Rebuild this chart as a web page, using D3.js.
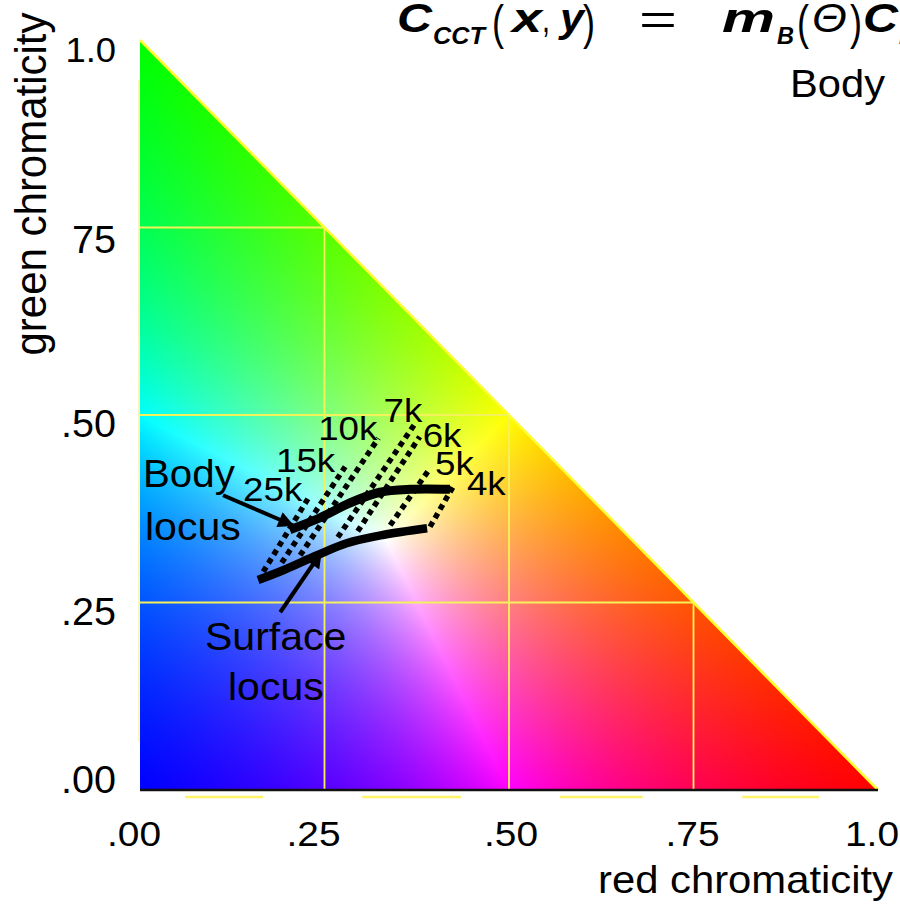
<!DOCTYPE html>
<html>
<head>
<meta charset="utf-8">
<script src="https://cdn.jsdelivr.net/npm/d3@7"></script>
<style>
  html, body { margin: 0; padding: 0; background: #fff; overflow: hidden; }
  text { font-family: "Liberation Sans", Arial, Helvetica, sans-serif; fill: #000; }
</style>
</head>
<body>
<svg id="chart" width="900" height="904"></svg>
<script>
// ---- axis ticks (r and g chromaticity) ----
const tickValues = [0, 0.25, 0.5, 0.75, 1];
const xTickLabels = [".00", ".25", ".50", ".75", "1.0"];
const yTickLabels = [".00", ".25", ".50", "75", "1.0"];
const gridValues = [0.25, 0.5, 0.75];

// ---- loci, as (r, g) chromaticity pairs ----
const bodyLocus = [[0.203, 0.347], [0.244, 0.363], [0.285, 0.383], [0.325, 0.397], [0.366, 0.401], [0.420, 0.401]];
const surfaceLocus = [[0.160, 0.280], [0.194, 0.293], [0.240, 0.313], [0.280, 0.329], [0.329, 0.340], [0.389, 0.349]];

// ---- iso-CCT lines: start (surface side) and end (beyond body locus) ----
const cctLabels = ["25k", "15k", "10k", "7k", "6k", "5k", "4k"];
const cctFrom = [[0.167, 0.291], [0.192, 0.303], [0.217, 0.313], [0.268, 0.337], [0.295, 0.345], [0.339, 0.353], [0.393, 0.351]];
const cctTo   = [[0.228, 0.389], [0.278, 0.431], [0.323, 0.469], [0.373, 0.489], [0.379, 0.471], [0.393, 0.429], [0.424, 0.404]];

// ---- annotation arrows (tail -> tip), chromaticity coordinates ----
const bodyArrow = [[0.1125, 0.393], [0.207, 0.353]];
const surfaceArrow = [[0.190, 0.237], [0.245, 0.316]];

// ---- layout ----
const W = 900, H = 904;
const x = d3.scaleLinear().domain([0, 1]).range([140, 878]);
const y = d3.scaleLinear().domain([0, 1]).range([790, 40]);

const svg = d3.select("#chart");
const defs = svg.append("defs");

// triangle of valid chromaticities
const tri = [[0, 0], [0, 1], [1, 0]];
const triPts = tri.map(d => [x(d[0]), y(d[1])]);
defs.append("clipPath").attr("id", "tri")
  .append("polygon").attr("points", triPts.map(p => p.join(",")).join(" "));

// colour field: (r, g, 1-r-g) scaled so the largest channel is full
const canvas = document.createElement("canvas");
canvas.width = W; canvas.height = H;
const ctx = canvas.getContext("2d");
const img = ctx.createImageData(W, H);
for (let py = Math.floor(y(1)) - 1; py <= Math.ceil(y(0)) + 1; py++) {
  for (let px = Math.floor(x(0)) - 1; px <= Math.ceil(x(1)) + 1; px++) {
    let r = Math.max(0, x.invert(px + 0.5));
    let g = Math.max(0, y.invert(py + 0.5));
    let b = Math.max(0, 1 - r - g);
    const m = Math.max(r, g, b) || 1;
    const i = (py * W + px) * 4;
    img.data[i] = Math.round(255 * r / m);
    img.data[i + 1] = Math.round(255 * g / m);
    img.data[i + 2] = Math.round(255 * b / m);
    img.data[i + 3] = 255;
  }
}
ctx.putImageData(img, 0, 0);
svg.append("image")
  .attr("href", canvas.toDataURL())
  .attr("x", 0).attr("y", 0).attr("width", W).attr("height", H)
  .attr("clip-path", "url(#tri)");

// yellow grid, clipped to the triangle
const grid = svg.append("g").attr("stroke", "#f4f25a").attr("stroke-width", 1.8).attr("fill", "none");
gridValues.forEach(v => {
  grid.append("line").attr("x1", x(v)).attr("x2", x(v)).attr("y1", y(0)).attr("y2", y(1 - v));
  grid.append("line").attr("x1", x(0)).attr("x2", x(1 - v)).attr("y1", y(v)).attr("y2", y(v));
});
// hypotenuse r + g = 1
svg.append("line")
  .attr("x1", x(0)).attr("y1", y(1)).attr("x2", x(1)).attr("y2", y(0))
  .attr("stroke", "#ffff30").attr("stroke-width", 2.5);
// faint left edge
svg.append("line")
  .attr("x1", x(0) - 1).attr("x2", x(0) - 1).attr("y1", y(0.947)).attr("y2", y(0.064))
  .attr("stroke", "#f8f4a0").attr("stroke-width", 1.5);
// base axis
svg.append("line")
  .attr("x1", x(0)).attr("x2", x(1)).attr("y1", y(0)).attr("y2", y(0))
  .attr("stroke", "#111").attr("stroke-width", 2.5);
// yellow underline pieces below the base
const baseMarks = [[0.061, 0.167], [0.301, 0.435], [0.569, 0.681], [0.816, 0.920]];
svg.append("g").selectAll("line").data(baseMarks).join("line")
  .attr("x1", d => x(d[0])).attr("x2", d => x(d[1]))
  .attr("y1", y(0) + 7).attr("y2", y(0) + 7)
  .attr("stroke", "#fff36a").attr("stroke-width", 2.5);

// text helper with a slight horizontal stretch
function label(t, px, py, size, anchor, sx) {
  return svg.append("text")
    .attr("transform", `translate(${px},${py}) scale(${sx || 1},1)`)
    .attr("text-anchor", anchor || "start")
    .attr("font-size", size)
    .text(t);
}

// y ticks
const yTickBase = [3, 22.5, 22, 25.5, 22];
const yTickSize = [38, 38, 38, 38, 35];
tickValues.forEach((v, i) => {
  label(yTickLabels[i], 116, y(v) + yTickBase[i], yTickSize[i], "end", 1.04);
});
// x ticks
const xTickShift = [-6, -11, 2, -1, -6];
tickValues.forEach((v, i) => {
  label(xTickLabels[i], x(v) + xTickShift[i], 846, 36, "middle", 1.08);
});
// axis titles
label("red chromaticity", 893, 893, 38, "end", 1.1);
svg.append("text")
  .attr("transform", "translate(46,184) rotate(-90) scale(1,1.05)")
  .attr("text-anchor", "middle")
  .attr("font-size", 42)
  .text("green chromaticity");

// iso-CCT dotted lines
const seg = d3.line().x(d => x(d[0])).y(d => y(d[1]));
svg.append("g").selectAll("path").data(cctLabels.map((l, i) => [cctFrom[i], cctTo[i]])).join("path")
  .attr("d", seg)
  .attr("fill", "none").attr("stroke", "#000")
  .attr("stroke-width", 5.5).attr("stroke-dasharray", "5.5,4.5");

// loci
const curve = d3.line().x(d => x(d[0])).y(d => y(d[1])).curve(d3.curveCatmullRom);
svg.append("path").attr("d", curve(bodyLocus))
  .attr("fill", "none").attr("stroke", "#000").attr("stroke-width", 9);
svg.append("path").attr("d", curve(surfaceLocus))
  .attr("fill", "none").attr("stroke", "#000").attr("stroke-width", 8.5);

// CCT labels near the upper end of each line
const cctLabelLayout = [
  { anchor: "end", dx: -6, dy: 3 },
  { anchor: "end", dx: -10, dy: 5 },
  { anchor: "end", dx: -1, dy: 2 },
  { anchor: "end", dx: 7, dy: -1 },
  { anchor: "start", dx: 3, dy: 10 },
  { anchor: "start", dx: 5, dy: 7 },
  { anchor: "start", dx: 14, dy: 8 }
];
cctLabels.forEach((t, i) => {
  const L = cctLabelLayout[i];
  label(t, x(cctTo[i][0]) + L.dx, y(cctTo[i][1]) + L.dy, 34, L.anchor, 1.08);
});

// arrows
defs.append("marker").attr("id", "head")
  .attr("viewBox", "0 0 10 10").attr("refX", 9).attr("refY", 5)
  .attr("markerWidth", 21).attr("markerHeight", 16)
  .attr("markerUnits", "userSpaceOnUse").attr("orient", "auto")
  .append("path").attr("d", "M0,0 L10,5 L0,10 Z").attr("fill", "#000");
[bodyArrow, surfaceArrow].forEach(a => {
  svg.append("path").attr("d", seg(a))
    .attr("stroke", "#000").attr("stroke-width", 4).attr("fill", "none")
    .attr("marker-end", "url(#head)");
});

// locus labels
label("Body", 143, 487, 38, "start", 1.06);
label("locus", 145, 540, 38, "start", 1.08);
label("Surface", 205, 650, 38, "start", 1.08);
label("locus", 228, 700, 38, "start", 1.08);

// formula heading
const formula = [
  // text, x, baseline, width, size, weight, style
  ["C", 397, 32, 35, 41, "bold", "italic"],
  ["CCT", 433, 44, 52, 23, "bold", "italic"],
  ["(", 492, 39, 12, 48, "normal", "normal"],
  ["x", 512, 32, 30, 41, "bold", "italic"],
  [",", 542, 32, 8, 41, "normal", "normal"],
  ["y", 560, 32, 24, 41, "bold", "italic"],
  [")", 583, 39, 12, 48, "normal", "normal"],
  ["=", 639, 34, 38, 42, "normal", "normal"],
  ["m", 722, 32, 53, 41, "bold", "italic"],
  ["B", 777, 44, 17, 23, "bold", "italic"],
  ["(", 797, 39, 12, 48, "normal", "normal"],
  ["\u0398", 812, 32, 35, 41, "normal", "italic"],
  [")", 850, 39, 12, 48, "normal", "normal"],
  ["C", 863, 32, 35, 41, "bold", "italic"],
  ["B", 899, 44, 17, 23, "bold", "italic"]
];
const head = svg.append("g");
formula.forEach(f => {
  head.append("text")
    .attr("x", f[1]).attr("y", f[2])
    .attr("font-size", f[4]).attr("font-weight", f[5]).attr("font-style", f[6])
    .attr("textLength", f[3]).attr("lengthAdjust", "spacingAndGlyphs")
    .text(f[0]);
});
head.append("text")
  .attr("x", 790).attr("y", 97).attr("font-size", 38)
  .attr("textLength", 95).attr("lengthAdjust", "spacingAndGlyphs")
  .text("Body");
</script>
</body>
</html>
